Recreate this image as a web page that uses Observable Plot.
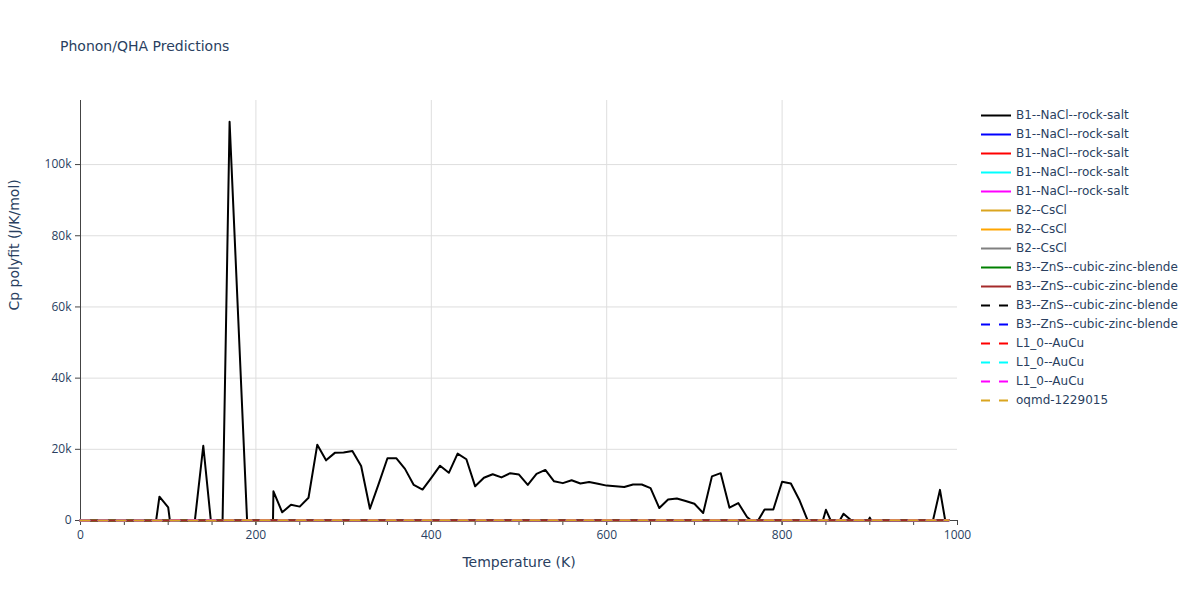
<!DOCTYPE html>
<html><head><meta charset="utf-8">
<script src="https://cdn.jsdelivr.net/npm/d3@7"></script>
<script src="https://cdn.jsdelivr.net/npm/@observablehq/plot@0.6"></script>
<style>
body{margin:0;background:#fff;font-family:"DejaVu Sans",sans-serif;}
#wrap{position:relative;width:1200px;height:600px;overflow:hidden;}
#chart{position:absolute;left:0;top:0;}
#title{position:absolute;left:60px;top:39px;font-size:14px;line-height:1;color:#2a3f5f;white-space:nowrap;}
#legend{position:absolute;left:981px;top:105.5px;font-size:12px;color:#2a3f5f;}
.row{height:19px;display:flex;align-items:center;white-space:nowrap;}
.row svg{margin-right:5px;}
</style></head><body>
<div id="wrap"><div id="chart"></div><div id="title">Phonon/QHA Predictions</div><div id="legend"></div></div>
<script>
// Temperatures (K) of the B1 (black) series
const temps = [0,10,20,30,40,50,60,70,80,90,100,110,120,130,140,150,160,170,180,190,
  200,210,220,230,240,250,260,270,280,290,300,310,320,330,340,350,360,370,380,390,
  400,410,420,430,440,450,460,470,480,490,500,510,520,530,540,550,560,570,580,590,
  600,610,620,630,640,650,660,670,680,690,700,710,720,730,740,750,760,770,780,790,
  800,810,820,830,840,850,860,870,880,890,900,910,920,930,940,950,960,970,980,990];
// Cp polyfit (J/K/mol) of the first B1--NaCl--rock-salt series (null = off-chart, not readable)
const cpB1Black = [null,null,null,null,null,null,null,null,-11000,6700,3700,-15800,null,-900,21000,-3400,-28000,112000,56000,-300,
  null,-150000,8200,2300,4400,3900,6400,21300,16900,19000,19100,19500,15300,3300,10300,17500,17500,14500,10000,8700,
  12000,15400,13400,18800,17200,9600,12000,13000,12100,13300,12900,10000,13100,14200,11000,10500,11300,10400,10800,10300,
  9800,9600,9400,10100,10100,9100,3500,5900,6200,5500,4700,2100,12400,13300,3600,4900,1000,-1100,3100,3100,
  10900,10400,5600,-500,-5600,3000,-2500,1900,-200,-4000,800,-4000,null,null,null,null,null,-2200,8600,-5700];

// The other series all lie on the zero line at this scale
const tempsLow = [0,50,100,200,300,400,500,600,700,800,900,990];
const cpB1Blue    = [0,18,33,44,47,48,49,49,50,50,51,51];
const cpB1Red     = [0,17,32,43,46,48,48,49,49,50,50,51];
const cpB1Cyan    = [0,19,34,44,47,48,49,50,50,51,51,52];
const cpB1Magenta = [0,18,33,43,47,48,49,49,50,50,51,51];
const cpB2Gold    = [0,20,35,45,48,49,50,50,51,51,52,52];
const cpB2Orange  = [0,21,36,45,48,49,50,51,51,52,52,53];
const cpB2Gray    = [0,20,35,44,47,49,49,50,50,51,51,52];
const cpB3Green   = [0,15,30,42,46,47,48,49,49,50,50,50];
const cpB3Brown   = [0,16,31,43,46,48,48,49,50,50,50,51];
const cpB3Black   = [0,15,30,42,46,47,48,49,49,50,50,51];
const cpB3Blue    = [0,16,31,42,46,47,48,49,49,50,50,51];
const cpL10Red    = [0,19,34,44,47,48,49,50,50,51,51,52];
const cpL10Cyan   = [0,18,33,44,47,48,49,50,50,50,51,51];
const cpL10Magenta= [0,19,34,44,47,49,49,50,50,51,51,52];
const cpOqmd      = [0,12,27,40,45,47,48,49,49,50,50,50];

const seriesNames = ["B1--NaCl--rock-salt","B1--NaCl--rock-salt","B1--NaCl--rock-salt","B1--NaCl--rock-salt","B1--NaCl--rock-salt",
  "B2--CsCl","B2--CsCl","B2--CsCl",
  "B3--ZnS--cubic-zinc-blende","B3--ZnS--cubic-zinc-blende","B3--ZnS--cubic-zinc-blende","B3--ZnS--cubic-zinc-blende",
  "L1_0--AuCu","L1_0--AuCu","L1_0--AuCu","oqmd-1229015"];
const seriesColors = ["black","blue","red","cyan","magenta","goldenrod","orange","gray","green","brown",
  "black","blue","red","cyan","magenta","goldenrod"];
const seriesDashed = [false,false,false,false,false,false,false,false,false,false,true,true,true,true,true,true];
const seriesValues = [cpB1Black,cpB1Blue,cpB1Red,cpB1Cyan,cpB1Magenta,cpB2Gold,cpB2Orange,cpB2Gray,cpB3Green,cpB3Brown,
  cpB3Black,cpB3Blue,cpL10Red,cpL10Cyan,cpL10Magenta,cpOqmd];

const xMajor = [0,200,400,600,800,1000];
const xMinor = [0,50,100,150,200,250,300,350,400,450,500,550,600,650,700,750,800,850,900,950,1000];
const yTicks = [0,20000,40000,60000,80000,100000];

const txt = "#2a3f5f", axisCol = "#444", gridCol = "#dedede";

const lineMarks = seriesValues.map((vals, i) => {
  const T = i === 0 ? temps : tempsLow;
  const rows = T.map((t, j) => ({T: t, Cp: vals[j]}));
  return Plot.line(rows, {x: "T", y: "Cp", stroke: seriesColors[i], strokeWidth: 2,
    strokeDasharray: seriesDashed[i] ? "9,9" : null, clip: i === 0});
});

const chart = Plot.plot({
  width: 1200, height: 600,
  marginLeft: 80, marginRight: 243, marginTop: 100, marginBottom: 80,
  style: {fontFamily: "'Open Sans', sans-serif", fontSize: "12px", color: txt, background: "#fff"},
  x: {domain: [0, 1000]},
  y: {domain: [0, 118000]},
  marks: [
    Plot.gridY(yTicks.filter(d => d > 0), {stroke: gridCol, strokeOpacity: 1}),
    Plot.gridX(xMajor.filter(d => d > 0 && d < 1000), {stroke: gridCol, strokeOpacity: 1}),
    Plot.ruleX([0], {stroke: axisCol, strokeWidth: 1}),
    Plot.ruleY([0], {stroke: axisCol, strokeWidth: 1}),
    Plot.axisX({ticks: xMinor, tickSize: 5, tickFormat: () => "", stroke: axisCol, label: null}),
    Plot.axisX({ticks: xMajor, tickSize: 5, tickPadding: 5, tickFormat: d => String(d), stroke: axisCol, fill: txt, fontSize: 12, label: null}),
    Plot.axisY({ticks: yTicks, tickSize: 5, tickPadding: 4, tickFormat: d3.format("~s"), stroke: axisCol, fill: txt, fontSize: 12, label: null}),
    ...lineMarks,
    Plot.text(["Temperature (K)"], {frameAnchor: "bottom", dy: 46, fontSize: 14, fill: txt, fontFamily: "DejaVu Sans"}),
    Plot.text(["Cp polyfit (J/K/mol)"], {frameAnchor: "left", dx: -66, rotate: -90, fontSize: 14, fill: txt, fontFamily: "DejaVu Sans"})
  ]
});
document.getElementById("chart").appendChild(chart);

const legend = document.getElementById("legend");
seriesNames.forEach((name, i) => {
  const row = document.createElement("div");
  row.className = "row";
  row.innerHTML = `<svg width="30" height="19"><line x1="0" x2="30" y1="9.5" y2="9.5" stroke="${seriesColors[i]}" stroke-width="2" ${seriesDashed[i] ? 'stroke-dasharray="9,9"' : ''}/></svg><span>${name}</span>`;
  legend.appendChild(row);
});
</script>
</body></html>
